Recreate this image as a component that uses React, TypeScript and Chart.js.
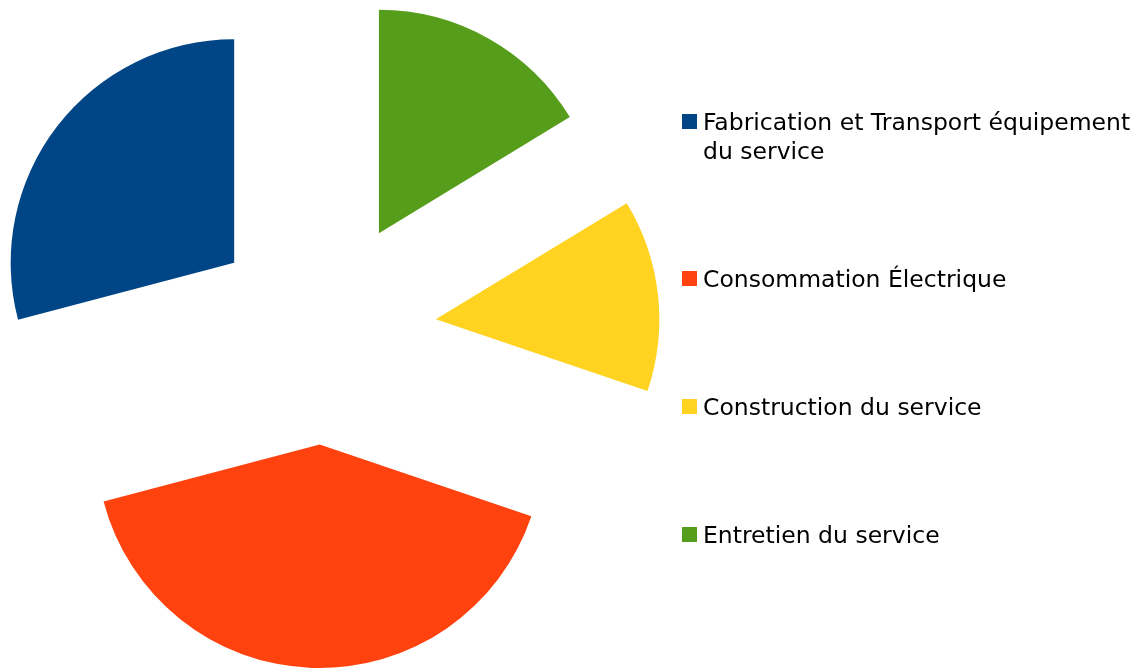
import React, { useEffect, useRef } from "react";
import { Chart, registerables } from "chart.js";

Chart.register(...registerables);

// ---- data (legend order) ----
const categories: string[] = [
  "Fabrication et Transport équipement du service",
  "Consommation Électrique",
  "Construction du service",
  "Entretien du service",
];
const values: number[] = [29.1, 40.7, 13.9, 16.3];
const colors: string[] = ["#004586", "#ff420e", "#ffd320", "#579d1c"];

// pie is drawn counter-clockwise from 12 o'clock in the reference:
// Chart.js goes clockwise, so feed the slices in reverse order
const pieOrder: number[] = [3, 2, 1, 0];

const W = 1145;
const H = 669;
const CENTER_X = 323.6;
const CENTER_Y = 331.7;
const RADIUS = 223.5;
const EXPLODE = 112.9; // radial shift of every slice, px

const FONT = '"DejaVu Sans", sans-serif';
const FONT_SIZE = 23.5;

function wrapText(ctx: CanvasRenderingContext2D, text: string, maxW: number): string[] {
  const words = text.split(" ");
  const lines: string[] = [];
  let cur = "";
  for (const w of words) {
    const t = cur ? cur + " " + w : w;
    if (cur && ctx.measureText(t).width > maxW) {
      lines.push(cur);
      cur = w;
    } else {
      cur = t;
    }
  }
  if (cur) lines.push(cur);
  return lines;
}

// moves every arc element out along its bisector (exploded pie)
const explodePlugin = {
  id: "explode",
  afterDatasetUpdate(chart: any, args: any) {
    const meta = args.meta;
    meta.data.forEach((arc: any) => {
      const mid = (arc.startAngle + arc.endAngle) / 2;
      arc.x += Math.cos(mid) * EXPLODE;
      arc.y += Math.sin(mid) * EXPLODE;
    });
  },
};

const sideLegend = {
  id: "sideLegend",
  afterDraw(chart: any) {
    const ctx: CanvasRenderingContext2D = chart.ctx;
    ctx.save();
    ctx.font = `${FONT_SIZE}px ${FONT}`;
    ctx.textBaseline = "alphabetic";
    ctx.textAlign = "left";
    let cy = 121;
    const textX = 703;
    const lineH = 29.5;
    categories.forEach((label, i) => {
      const lines = wrapText(ctx, label, W - textX - 1);
      ctx.fillStyle = colors[i];
      ctx.fillRect(682, Math.round(cy - 7.5), 15, 15);
      ctx.fillStyle = "#000000";
      lines.forEach((ln, j) => ctx.fillText(ln, textX, cy + 8.5 + j * lineH));
      cy += 128 + (lines.length - 1) * lineH;
    });
    ctx.restore();
  },
};

export default function App() {
  const ref = useRef<HTMLCanvasElement | null>(null);

  useEffect(() => {
    document.body.style.margin = "0";
    const canvas = ref.current;
    if (!canvas) return;

    const pieLabels = pieOrder.map((i) => categories[i]);
    const pieValues = pieOrder.map((i) => values[i]);
    const pieColors = pieOrder.map((i) => colors[i]);

    const chart = new Chart(canvas, {
      type: "pie",
      data: {
        labels: pieLabels,
        datasets: [
          {
            data: pieValues,
            backgroundColor: pieColors,
            borderWidth: 0,
            offset: 0,
            hoverOffset: 0,
            clip: false,
          } as any,
        ],
      },
      options: {
        responsive: false,
        animation: false,
        events: [],
        radius: RADIUS,
        rotation: 0,
        layout: {
          padding: {
            left: 0,
            top: 0,
            right: W - 2 * CENTER_X,
            bottom: H - 2 * CENTER_Y,
          },
        },
        plugins: {
          legend: { display: false },
          tooltip: { enabled: false },
          title: { display: false },
        },
      } as any,
      plugins: [explodePlugin, sideLegend],
    });

    return () => chart.destroy();
  }, []);

  return (
    <div style={{ width: W, height: H, position: "relative", background: "#ffffff" }}>
      <canvas ref={ref} width={W} height={H} style={{ display: "block", width: W, height: H }} />
    </div>
  );
}
